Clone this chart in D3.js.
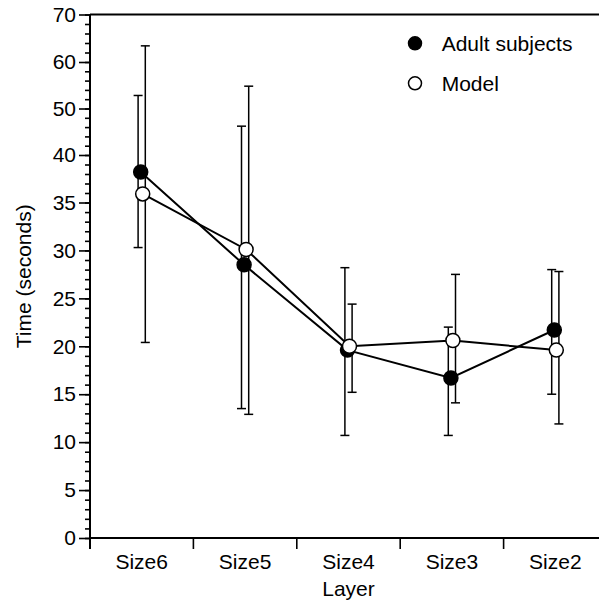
<!DOCTYPE html>
<html>
<head>
  <script src="https://d3js.org/d3.v7.min.js"></script>
  <style>
    body { margin: 0; background: #fff; }
    text { font-family: "Liberation Sans", Arial, sans-serif; fill: #000; }
  </style>
</head>
<body>
<script>
  var layers = ["Size6", "Size5", "Size4", "Size3", "Size2"];
  var adultMean = [38.2, 28.5, 19.6, 16.7, 21.7];
  var adultLo   = [30.3, 13.5, 10.7, 10.7, 15.0];
  var adultHi   = [52.8, 46.2, 28.2, 22.0, 28.0];
  var modelMean = [35.9, 30.1, 20.0, 20.6, 19.6];
  var modelLo   = [20.4, 12.9, 15.2, 14.1, 11.9];
  var modelHi   = [63.4, 54.8, 24.4, 27.5, 27.8];
  var yTicks = [0, 5, 10, 15, 20, 25, 30, 35, 40, 50, 60, 70];
  var yMinor = d3.range(0, 40, 1).concat(d3.range(40, 71, 2));

  var width = 599, height = 602;
  var plotLeft = 90, plotRight = 607, plotTop = 14.5, plotBottom = 538;
  var fontSize = '21px';

  var svg = d3.select('body').append('svg')
    .attr('width', width)
    .attr('height', height);

  // the axis is stretched above 35, so the scale is piecewise
  var y = d3.scaleLinear()
    .domain([0, 35, 40, 50, 60, 70])
    .range([plotBottom, 202.5, 155, 108.5, 62, plotTop]);

  var x = d3.scaleBand()
    .domain(layers)
    .range([plotLeft, plotRight]);
  var cx = function(i) { return x(layers[i]) + x.bandwidth() / 2; };

  // frame lines
  svg.append('line')
    .attr('x1', plotLeft).attr('x2', plotRight).attr('y1', plotTop).attr('y2', plotTop)
    .attr('stroke', '#000').attr('stroke-width', 2);
  svg.append('line')
    .attr('x1', plotLeft).attr('x2', plotRight).attr('y1', plotBottom).attr('y2', plotBottom)
    .attr('stroke', '#000').attr('stroke-width', 2);
  svg.append('line')
    .attr('x1', plotLeft).attr('x2', plotLeft).attr('y1', plotTop).attr('y2', plotBottom + 11)
    .attr('stroke', '#000').attr('stroke-width', 2);

  // y axis
  var yMinorAxis = svg.append('g')
    .attr('transform', 'translate(' + plotLeft + ',0)')
    .call(d3.axisLeft(y).tickValues(yMinor).tickSize(5).tickFormat(''));
  var yAxis = svg.append('g')
    .attr('transform', 'translate(' + plotLeft + ',0)')
    .call(d3.axisLeft(y).tickValues(yTicks).tickSize(11).tickPadding(3));
  [yMinorAxis, yAxis].forEach(function(g) {
    g.select('.domain').remove();
    g.selectAll('line').attr('stroke', '#000').attr('stroke-width', 1.6);
  });
  yAxis.selectAll('text')
    .style('font-size', fontSize)
    .style('font-family', '"Liberation Sans", Arial, sans-serif');

  // x axis: ticks at band edges, labels at centres
  svg.append('g').selectAll('line')
    .data(layers)
    .enter().append('line')
    .attr('x1', function(d) { return x(d); })
    .attr('x2', function(d) { return x(d); })
    .attr('y1', plotBottom).attr('y2', plotBottom + 11)
    .attr('stroke', '#000').attr('stroke-width', 1.6);
  svg.append('g').selectAll('text')
    .data(layers)
    .enter().append('text')
    .attr('x', function(d) { return x(d) + x.bandwidth() / 2; })
    .attr('y', 569)
    .attr('text-anchor', 'middle')
    .style('font-size', fontSize)
    .text(function(d) { return d; });

  svg.append('text')
    .attr('x', (plotLeft + plotRight) / 2)
    .attr('y', 596)
    .attr('text-anchor', 'middle')
    .style('font-size', fontSize)
    .text('Layer');

  svg.append('text')
    .attr('transform', 'translate(31,' + (plotTop + plotBottom) / 2 + ') rotate(-90)')
    .attr('text-anchor', 'middle')
    .style('font-size', fontSize)
    .text('Time (seconds)');

  var series = [
    { mean: adultMean, lo: adultLo, hi: adultHi, fill: '#000', dot: -1, bar: -3.6 },
    { mean: modelMean, lo: modelLo, hi: modelHi, fill: '#fff', dot: 1, bar: 3.6 }
  ];

  // error bars
  series.forEach(function(s) {
    var g = svg.append('g').attr('stroke', '#000').attr('stroke-width', 1.5);
    layers.forEach(function(d, i) {
      var bx = cx(i) + s.bar;
      g.append('line').attr('x1', bx).attr('x2', bx)
        .attr('y1', y(s.lo[i])).attr('y2', y(s.hi[i]));
      g.append('line').attr('x1', bx - 4.5).attr('x2', bx + 4.5)
        .attr('y1', y(s.lo[i])).attr('y2', y(s.lo[i]));
      g.append('line').attr('x1', bx - 4.5).attr('x2', bx + 4.5)
        .attr('y1', y(s.hi[i])).attr('y2', y(s.hi[i]));
    });
  });

  // lines and points
  series.forEach(function(s) {
    var line = d3.line()
      .x(function(d, i) { return cx(i) + s.dot; })
      .y(function(d) { return y(d); });
    svg.append('path')
      .datum(s.mean)
      .attr('d', line)
      .attr('fill', 'none')
      .attr('stroke', '#000')
      .attr('stroke-width', 2);
  });
  series.forEach(function(s) {
    svg.append('g').selectAll('circle')
      .data(s.mean)
      .enter().append('circle')
      .attr('cx', function(d, i) { return cx(i) + s.dot; })
      .attr('cy', function(d) { return y(d); })
      .attr('r', 7)
      .attr('fill', s.fill)
      .attr('stroke', '#000')
      .attr('stroke-width', 1.5);
  });

  // legend
  var legend = [
    { label: 'Adult subjects', fill: '#000', yy: 43.3 },
    { label: 'Model', fill: '#fff', yy: 83.3 }
  ];
  legend.forEach(function(l) {
    svg.append('circle')
      .attr('cx', 415).attr('cy', l.yy).attr('r', 6.5)
      .attr('fill', l.fill).attr('stroke', '#000').attr('stroke-width', 1.5);
    svg.append('text')
      .attr('x', 441.7).attr('y', l.yy)
      .attr('dy', '0.35em')
      .style('font-size', fontSize)
      .text(l.label);
  });
</script>
</body>
</html>
